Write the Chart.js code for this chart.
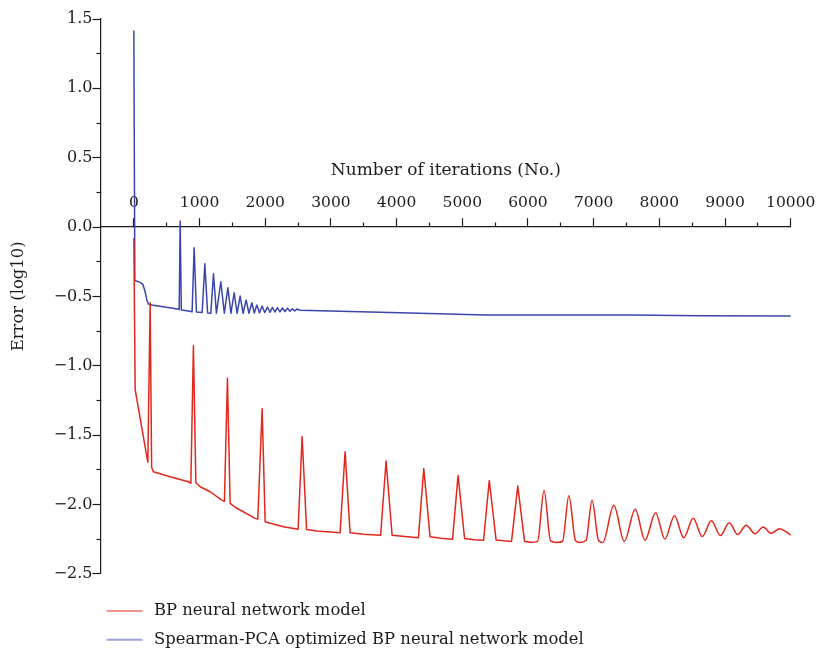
<!DOCTYPE html>
<html>
<head>
<meta charset="utf-8">
<title>Error vs iterations</title>
<script src="https://cdn.jsdelivr.net/npm/chart.js@4.4.1/dist/chart.umd.min.js"></script>
<style>
html, body { margin: 0; padding: 0; background: #ffffff; }
canvas { display: block; }
</style>
</head>
<body>
<canvas id="chart" width="819" height="648"></canvas>
<script>
// ---------------- data ----------------
const seriesLabels = ['BP neural network model', 'Spearman-PCA optimized BP neural network model'];
const xAxisTitle = 'Number of iterations (No.)';
const yAxisTitle = 'Error (log10)';

const xMajorTicks = [0, 1000, 2000, 3000, 4000, 5000, 6000, 7000, 8000, 9000, 10000];
const xMinorTicks = [500, 1500, 2500, 3500, 4500, 5500, 6500, 7500, 8500, 9500];
const yMajorTicks = [-2.5, -2, -1.5, -1, -0.5, 0, 0.5, 1, 1.5];
const yMinorTicks = [-2.25, -1.75, -1.25, -0.75, -0.25, 0.25, 0.75, 1.25];

// BP neural network model (sharp spikes part)
const bpIter = [0, 20, 213, 248, 271, 298, 553, 831, 868, 907, 944, 1009, 1161, 1339, 1379, 1425, 1466, 1542, 1846, 1887,
  1953, 1999, 2049, 2277, 2501, 2562, 2630, 2785, 3140, 3216, 3292, 3495, 3757, 3840, 3932, 4129, 4332, 4414, 4510, 4677,
  4852, 4936, 5035, 5180, 5324, 5411, 5515, 5636, 5750, 5845, 5948, 6032];
const bpErr = [-0.085, -1.172, -1.697, -0.546, -1.734, -1.765, -1.801, -1.837, -1.848, -0.856, -1.844, -1.873, -1.909, -1.969, -1.978, -1.091, -1.993, -2.021, -2.101, -2.106,
  -1.310, -2.125, -2.132, -2.161, -2.179, -1.512, -2.181, -2.192, -2.205, -1.620, -2.205, -2.216, -2.223, -1.687, -2.223, -2.232, -2.241, -1.742, -2.234, -2.245,
  -2.252, -1.791, -2.246, -2.256, -2.259, -1.828, -2.257, -2.263, -2.267, -1.868, -2.267, -2.274];

// BP neural network model (smooth oscillation part, continues the series)
const bpWaveIter = [6032, 6146, 6245, 6344, 6438, 6527, 6623, 6725, 6793, 6884, 6976, 7075, 7139, 7307, 7466, 7633, 7782, 7942,
  8084, 8231, 8371, 8516, 8653, 8793, 8930, 9064, 9193, 9323, 9457, 9581, 9703, 9830, 10000];
const bpWaveErr = [-2.274, -2.267, -1.900, -2.263, -2.275, -2.266, -1.938, -2.263, -2.275, -2.261, -1.970, -2.261, -2.275, -2.007, -2.267, -2.036, -2.259, -2.060,
  -2.250, -2.082, -2.241, -2.101, -2.232, -2.119, -2.225, -2.133, -2.218, -2.151, -2.212, -2.163, -2.209, -2.176, -2.221];

// Spearman-PCA optimized BP neural network model
const pcaIter = [0, 15, 96, 137, 172, 198, 222, 274, 664, 690, 705, 723, 807, 887, 918, 953, 1040, 1081, 1123, 1172,
  1212, 1257, 1324, 1378, 1431, 1478, 1527, 1572, 1618, 1664, 1709, 1752, 1796, 1834, 1872, 1912, 1953, 1992, 2034, 2072,
  2110, 2148, 2186, 2224, 2262, 2300, 2338, 2376, 2414, 2448, 2481, 2531, 4053, 5069, 5373, 7600, 8619, 10000];
const pcaErr = [1.413, -0.386, -0.399, -0.413, -0.467, -0.526, -0.555, -0.563, -0.591, -0.595, 0.043, -0.599, -0.604, -0.611, -0.149, -0.613, -0.616, -0.265, -0.620, -0.621,
  -0.337, -0.622, -0.395, -0.622, -0.438, -0.622, -0.474, -0.622, -0.498, -0.622, -0.526, -0.622, -0.546, -0.620, -0.563, -0.619, -0.570, -0.617, -0.577, -0.615,
  -0.579, -0.613, -0.582, -0.612, -0.584, -0.609, -0.586, -0.608, -0.589, -0.606, -0.591, -0.600, -0.618, -0.630, -0.635, -0.635, -0.640, -0.642];

// ---------------- style ----------------
const INK = '#1f1b1c';
const RED = '#e3271c';
const BLUE = '#3a46ad';
const FONT = '"DejaVu Serif", "Liberation Serif", serif';

Chart.defaults.font.family = FONT;
Chart.defaults.font.size = 16;
Chart.defaults.color = INK;

const toPts = (xs, ys) => xs.map((x, i) => ({ x: x, y: ys[i] }));
const fmtY = v => (v < 0 ? '\u2212' : '') + Math.abs(v).toFixed(1);

function legendLine(color) {
  const c = document.createElement('canvas');
  c.width = 50; c.height = 4;
  const g = c.getContext('2d');
  g.strokeStyle = color;
  g.lineWidth = 1.2;
  g.beginPath();
  g.moveTo(2.2, 2);
  g.lineTo(37.8, 2);
  g.stroke();
  return c;
}

const xTitlePlugin = {
  id: 'xAxisTitleAbove',
  afterDraw(chart) {
    const xs = chart.scales.x, ys = chart.scales.y;
    const ctx = chart.ctx;
    ctx.save();
    ctx.font = '17px ' + FONT;
    ctx.fillStyle = INK;
    ctx.textAlign = 'center';
    ctx.textBaseline = 'middle';
    ctx.fillText(xAxisTitle, (xs.left + xs.right) / 2, ys.getPixelForValue(0) - 56);
    ctx.restore();
  }
};

const ticksFrom = arr => scale => { scale.ticks = arr.map(v => ({ value: v })); };

new Chart(document.getElementById('chart').getContext('2d'), {
  type: 'line',
  data: {
    datasets: [
      {
        label: seriesLabels[0],
        data: toPts(bpIter, bpErr),
        borderColor: RED,
        backgroundColor: RED,
        pointStyle: legendLine(RED),
        tension: 0
      },
      {
        label: seriesLabels[1],
        data: toPts(pcaIter, pcaErr),
        borderColor: BLUE,
        backgroundColor: BLUE,
        pointStyle: legendLine(BLUE),
        tension: 0
      },
      {
        label: seriesLabels[0] + ' (continued)',
        data: toPts(bpWaveIter, bpWaveErr),
        borderColor: RED,
        backgroundColor: RED,
        cubicInterpolationMode: 'monotone'
      }
    ]
  },
  options: {
    responsive: false,
    animation: false,
    devicePixelRatio: 1,
    events: [],
    layout: { padding: { left: 4, top: 19, right: 28.3, bottom: -9.9 } },
    elements: {
      point: { radius: 0, hoverRadius: 0 },
      line: { borderWidth: 1.5, borderJoinStyle: 'round', borderCapStyle: 'round', fill: false }
    },
    plugins: {
      tooltip: { enabled: false },
      title: { display: false },
      legend: {
        display: true,
        position: 'bottom',
        align: 'start',
        fullSize: false,
        title: { display: true, text: '', font: { size: 10, lineHeight: 1 }, padding: { top: 0, bottom: 6.8 } },
        labels: {
          usePointStyle: true,
          pointStyleWidth: 32.5,
          padding: 12.3,
          color: INK,
          font: { size: 16.4, family: FONT },
          filter: item => item.datasetIndex !== 2
        }
      }
    },
    scales: {
      x: {
        type: 'linear',
        axis: 'x',
        position: { y: 0 },
        min: -500,
        max: 10000,
        afterBuildTicks: ticksFrom(xMajorTicks),
        ticks: {
          stepSize: 1000,
          autoSkip: false,
          maxRotation: 0,
          minRotation: 0,
          padding: -24.6,
          color: INK,
          font: { size: 15.5, family: FONT },
          callback: v => String(v)
        },
        grid: { drawOnChartArea: false, drawTicks: true, tickLength: -9, tickColor: INK, tickWidth: 1.2 },
        border: { display: true, color: INK, width: 1.2 }
      },
      x2: {
        type: 'linear',
        axis: 'x',
        position: { y: 0 },
        min: -500,
        max: 10000,
        afterBuildTicks: ticksFrom(xMinorTicks),
        ticks: { stepSize: 500, display: false, autoSkip: false, maxRotation: 0 },
        grid: { drawOnChartArea: false, drawTicks: true, tickLength: -4.5, tickColor: INK, tickWidth: 1.2 },
        border: { display: false }
      },
      y: {
        type: 'linear',
        axis: 'y',
        position: 'left',
        min: -2.5,
        max: 1.5,
        afterBuildTicks: ticksFrom(yMajorTicks),
        afterFit: scale => { scale.width = 97; },
        ticks: {
          stepSize: 0.5,
          padding: 0,
          color: INK,
          font: { size: 16, family: FONT },
          callback: v => fmtY(v)
        },
        grid: { drawOnChartArea: false, drawTicks: true, tickLength: 8.5, tickColor: INK, tickWidth: 1.2 },
        border: { display: true, color: INK, width: 1.2 },
        title: {
          display: true,
          text: yAxisTitle,
          color: INK,
          font: { size: 16.4, family: FONT },
          padding: { top: 5.4, bottom: 0 }
        }
      },
      y2: {
        type: 'linear',
        axis: 'y',
        position: { x: -500 },
        min: -2.5,
        max: 1.5,
        afterBuildTicks: ticksFrom(yMinorTicks),
        ticks: { stepSize: 0.25, display: false },
        grid: { drawOnChartArea: false, drawTicks: true, tickLength: 4.5, tickColor: INK, tickWidth: 1.2 },
        border: { display: false }
      }
    }
  },
  plugins: [xTitlePlugin]
});
</script>
</body>
</html>
